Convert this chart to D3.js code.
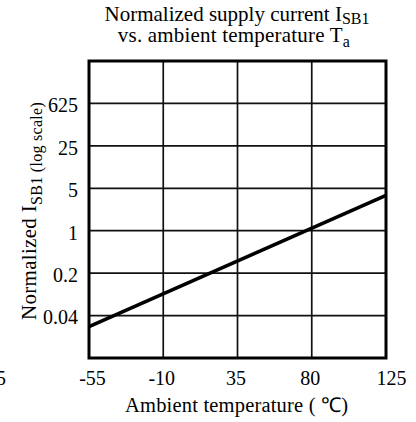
<!DOCTYPE html>
<html>
<head>
<meta charset="utf-8">
<script src="https://cdn.jsdelivr.net/npm/d3@7"></script>
<style>
  html, body { margin: 0; padding: 0; background: #fff; }
  svg { display: block; }
  text { font-family: "Liberation Serif", "Times New Roman", serif; fill: #000; }
</style>
</head>
<body>
<svg id="chart" width="416" height="422"></svg>
<script>
// ---- data ----
const temperatures = [-55, 125];          // °C
const currentValues = [0.0264, 3.83];     // normalized I_SB1
const xTickValues = [-55, -10, 35, 80, 125];
const xTickLabels = ["-55", "-10", "35", "80", "125"];
const yTickValues = [0.04, 0.2, 1, 5, 25, 125];
const yTickLabels = ["0.04", "0.2", "1", "5", "25", "625"];
const yDomain = [0.008, 625];
const xDomain = [-55, 125];

// ---- layout ----
const svg = d3.select("#chart");
const pL = 89, pR = 386, pT = 61, pB = 358;

const x = d3.scaleLinear().domain(xDomain).range([pL, pR]);
const y = d3.scaleLog().base(5).domain(yDomain).range([pB, pT]);

// grid lines
const grid = svg.append("g").attr("stroke", "#111").attr("stroke-width", 1.7);
grid.selectAll("line.h").data(yTickValues).join("line")
  .attr("class", "h")
  .attr("x1", pL).attr("x2", pR)
  .attr("y1", d => y(d)).attr("y2", d => y(d));
grid.selectAll("line.v").data(xTickValues.slice(1, -1)).join("line")
  .attr("class", "v")
  .attr("y1", pT).attr("y2", pB)
  .attr("x1", d => x(d)).attr("x2", d => x(d));

// data line
const line = d3.line().x(d => x(d[0])).y(d => y(d[1]));
svg.append("path")
  .datum(temperatures.map((t, i) => [t, currentValues[i]]))
  .attr("d", line)
  .attr("fill", "none")
  .attr("stroke", "#000")
  .attr("stroke-width", 3.6);

// frame
svg.append("rect")
  .attr("x", pL).attr("y", pT)
  .attr("width", pR - pL).attr("height", pB - pT)
  .attr("fill", "none").attr("stroke", "#000").attr("stroke-width", 3);

// x axis tick labels
const xAxis = d3.axisBottom(x).tickValues(xTickValues)
  .tickFormat((d, i) => xTickLabels[i]).tickSize(0).tickPadding(0);
const gx = svg.append("g").attr("transform", `translate(0,${pB})`).call(xAxis);
gx.select(".domain").remove();
gx.selectAll("text")
  .attr("y", 27).attr("dy", 0)
  .style("font-family", "Liberation Serif").style("font-size", "20px")
  .attr("dx", (d, i) => (i === 0 ? 3 : i === xTickValues.length - 1 ? 5 : -2));

// clipped stray label at far left (as in the reference)
svg.append("text").attr("x", -4).attr("y", 385)
  .style("font-size", "20px").text("5");

// y axis tick labels
const yAxis = d3.axisLeft(y).tickValues(yTickValues)
  .tickFormat((d, i) => yTickLabels[i]).tickSize(0).tickPadding(0);
const gy = svg.append("g").attr("transform", `translate(78,0)`).call(yAxis);
gy.select(".domain").remove();
gy.selectAll("text")
  .attr("x", 0).attr("dy", "0.42em")
  .style("font-family", "Liberation Serif").style("font-size", "20px");

// title
const t1 = svg.append("text").attr("text-anchor", "middle")
  .attr("x", 237).attr("y", 21)
  .style("font-size", "21px");
t1.append("tspan").text("Normalized supply current I");
t1.append("tspan").attr("dy", 3).style("font-size", "16px").text("SB1");
const t2 = svg.append("text").attr("text-anchor", "middle")
  .attr("x", 234).attr("y", 42)
  .style("font-size", "21px").style("letter-spacing", "0.2px");
t2.append("tspan").text("vs. ambient temperature T");
t2.append("tspan").attr("dy", 5).style("font-size", "16px").text("a");

// x label
svg.append("text").attr("x", 125).attr("y", 412)
  .attr("textLength", 223).attr("lengthAdjust", "spacing")
  .style("font-size", "20.5px")
  .text("Ambient temperature ( \u2103)");

// y label
const yl = svg.append("text")
  .attr("transform", "translate(36,320) rotate(-90)")
  .style("font-size", "21px").style("letter-spacing", "0.3px");
yl.append("tspan").text("Normalized I");
yl.append("tspan").attr("dy", 6).style("font-size", "16px").text("SB1");
yl.append("tspan").style("font-size", "16px").text(" (log scale)");
</script>
</body>
</html>
